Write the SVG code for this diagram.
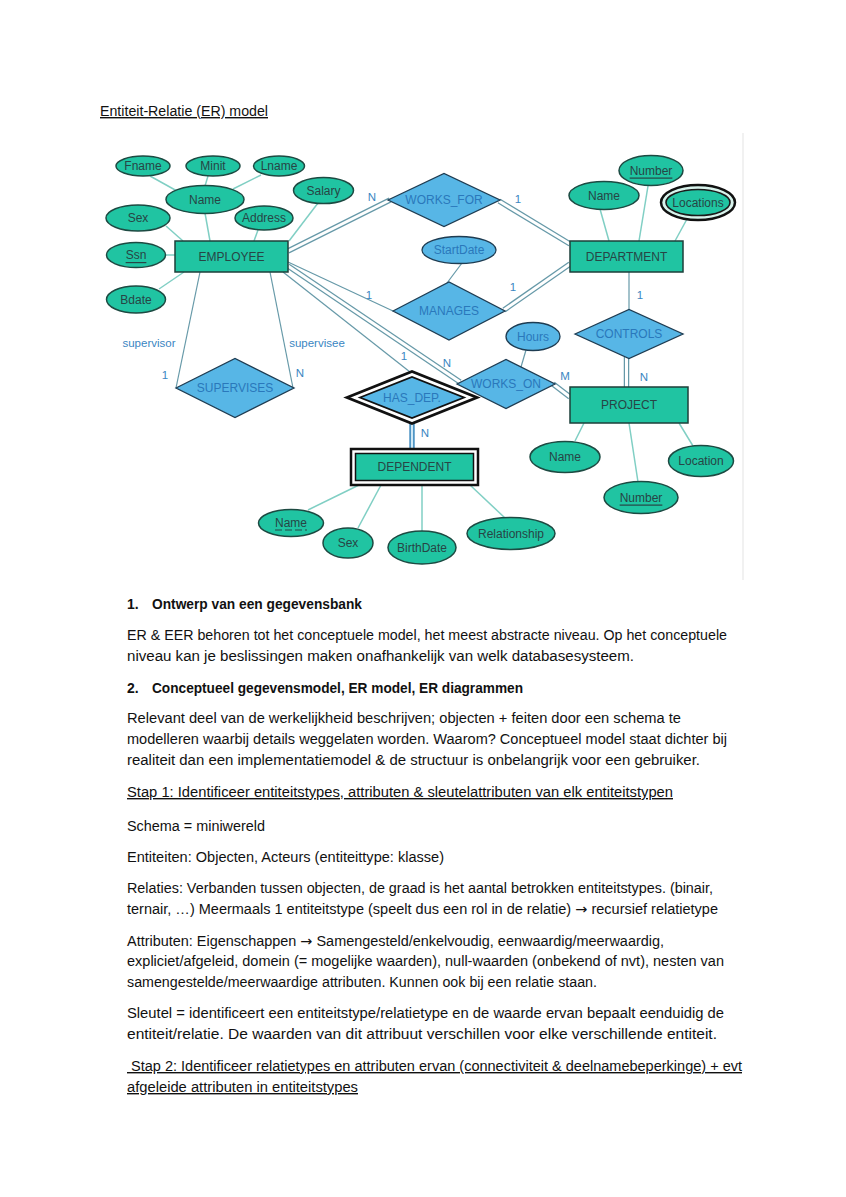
<svg xmlns="http://www.w3.org/2000/svg" width="846" height="1197" viewBox="0 0 846 1197">
<style>
.bg{fill:#ffffff}
.al{stroke:#80cfc4;stroke-width:1.5;fill:none}
.rl{stroke:#6699a8;stroke-width:1.2;fill:none}
.dl{stroke:#6699a8;stroke-width:5.5;fill:none}
.dli{stroke:#ffffff;stroke-width:3;fill:none}
.att{fill:#20c4a2;stroke:#1d4a42;stroke-width:1.5}
.ent{fill:#20c4a2;stroke:#1d3f3a;stroke-width:1.5}
.rel{fill:#57b6e6;stroke:#1e3c52;stroke-width:1.3}
.ratt{fill:#57b6e6;stroke:#1e3c52;stroke-width:1.3}
.t{font-family:"Liberation Sans",Arial,sans-serif;font-size:12px;fill:#274545;text-anchor:middle;dominant-baseline:central}
.rt{font-family:"Liberation Sans",Arial,sans-serif;font-size:12px;fill:#2a78bb;text-anchor:middle;dominant-baseline:central}
.lb{font-family:"Liberation Sans",Arial,sans-serif;font-size:11.5px;fill:#3a86c2;text-anchor:middle;dominant-baseline:central}
.u{text-decoration:underline}
.p{font-family:"Liberation Sans",Arial,sans-serif;font-size:14px;fill:#111}
.b{font-weight:bold}
.ar{font-family:"DejaVu Sans",sans-serif}
</style>
<rect class="bg" x="0" y="0" width="846" height="1197"/>
<line x1="743" y1="133" x2="743" y2="580" stroke="#ececec" stroke-width="1.5"/>
<text class="p u" x="100" y="116" textLength="168" lengthAdjust="spacingAndGlyphs">Entiteit-Relatie (ER) model</text>

<g id="connectors">
  <line class="al" x1="150" y1="176" x2="177" y2="191"/>
  <line class="al" x1="208" y1="176" x2="205" y2="186"/>
  <line class="al" x1="261" y1="175" x2="233" y2="189"/>
  <line class="al" x1="205" y1="213" x2="210" y2="241"/>
  <line class="al" x1="166" y1="226" x2="183" y2="241"/>
  <line class="al" x1="258" y1="230" x2="254" y2="241"/>
  <line class="al" x1="318" y1="203" x2="289" y2="241"/>
  <line class="al" x1="165" y1="255" x2="175" y2="255"/>
  <line class="al" x1="159" y1="289" x2="184" y2="272"/>
  <line class="al" x1="600" y1="209" x2="609" y2="241"/>
  <line class="al" x1="648" y1="186" x2="639" y2="241"/>
  <line class="al" x1="687" y1="219" x2="675" y2="241"/>
  <line class="rl" x1="462" y1="263" x2="447" y2="283"/>
  <line class="rl" x1="526" y1="350" x2="521" y2="367"/>
  <line class="al" x1="575" y1="441" x2="584" y2="423"/>
  <line class="al" x1="638" y1="482" x2="629" y2="423"/>
  <line class="al" x1="693" y1="446" x2="679" y2="423"/>
  <line class="al" x1="308" y1="510" x2="359" y2="485"/>
  <line class="al" x1="358" y1="528" x2="381" y2="485"/>
  <line class="al" x1="422" y1="531" x2="422" y2="485"/>
  <line class="al" x1="505" y1="518" x2="470" y2="485"/>

  <line class="rl" x1="288" y1="262" x2="393" y2="311"/>
  <line class="rl" x1="283" y1="272" x2="410" y2="372"/>
  <line class="rl" x1="200" y1="272" x2="176" y2="388"/>
  <line class="rl" x1="270" y1="272" x2="293" y2="388"/>
  <line class="rl" x1="629" y1="272" x2="629" y2="310"/>

  <line class="dl" x1="288" y1="251" x2="390" y2="200"/>
  <line class="dli" x1="288" y1="251" x2="390" y2="200"/>
  <line class="dl" x1="499" y1="201" x2="570" y2="244"/>
  <line class="dli" x1="499" y1="201" x2="570" y2="244"/>
  <line class="dl" x1="504" y1="310" x2="570" y2="264"/>
  <line class="dli" x1="504" y1="310" x2="570" y2="264"/>
  <line class="dl" x1="288" y1="266" x2="460" y2="382"/>
  <line class="dli" x1="288" y1="266" x2="460" y2="382"/>
  <line class="dl" x1="553" y1="384" x2="570" y2="397"/>
  <line class="dli" x1="553" y1="384" x2="570" y2="397"/>
  <line class="dl" x1="626.5" y1="357" x2="626.5" y2="387"/>
  <line class="dli" x1="626.5" y1="357" x2="626.5" y2="387"/>
  <line x1="412" y1="422" x2="412" y2="449" stroke="#4f95c4" stroke-width="5.5"/>
  <line x1="412" y1="422" x2="412" y2="449" stroke="#cfe8f5" stroke-width="2"/>

  <text class="lb" x="372" y="197">N</text>
  <text class="lb" x="518" y="199">1</text>
  <text class="lb" x="369" y="295">1</text>
  <text class="lb" x="513" y="287">1</text>
  <text class="lb" x="640" y="295">1</text>
  <text class="lb" x="644" y="377">N</text>
  <text class="lb" x="565" y="376">M</text>
  <text class="lb" x="447" y="363">N</text>
  <text class="lb" x="404" y="356">1</text>
  <text class="lb" x="425" y="433">N</text>
  <text class="lb" x="149" y="343">supervisor</text>
  <text class="lb" x="317" y="343">supervisee</text>
  <text class="lb" x="165" y="375">1</text>
  <text class="lb" x="300" y="373">N</text>
</g>

<g id="employee">
  <rect class="ent" x="175" y="241" width="113" height="31"/>
  <text class="t" x="231.5" y="256.5">EMPLOYEE</text>
</g>
<g id="emp-fname"><ellipse class="att" cx="143" cy="166" rx="27" ry="10"/><text class="t" x="143" y="166">Fname</text></g>
<g id="emp-minit"><ellipse class="att" cx="213" cy="166" rx="27" ry="10"/><text class="t" x="213" y="166">Minit</text></g>
<g id="emp-lname"><ellipse class="att" cx="279" cy="166" rx="25.5" ry="10"/><text class="t" x="279" y="166">Lname</text></g>
<g id="emp-name"><ellipse class="att" cx="205" cy="199.5" rx="39" ry="14"/><text class="t" x="205" y="199.5">Name</text></g>
<g id="emp-salary"><ellipse class="att" cx="323.5" cy="190.5" rx="30" ry="13"/><text class="t" x="323.5" y="190.5">Salary</text></g>
<g id="emp-sex"><ellipse class="att" cx="138" cy="218" rx="32" ry="13"/><text class="t" x="138" y="218">Sex</text></g>
<g id="emp-address"><ellipse class="att" cx="264" cy="218" rx="29" ry="12"/><text class="t" x="264" y="218">Address</text></g>
<g id="emp-ssn"><ellipse class="att" cx="136" cy="255" rx="29.5" ry="12.5"/><text class="t u" x="136" y="255">Ssn</text></g>
<g id="emp-bdate"><ellipse class="att" cx="136" cy="299.5" rx="29.5" ry="13.5"/><text class="t" x="136" y="299.5">Bdate</text></g>

<g id="works-for">
  <polygon class="rel" points="388,200 444,173.5 500,200 444,226.5"/>
  <text class="rt" x="444" y="200">WORKS_FOR</text>
</g>
<g id="department">
  <rect class="ent" x="570" y="241" width="113" height="31"/>
  <text class="t" x="626.5" y="256.5">DEPARTMENT</text>
</g>
<g id="dept-name"><ellipse class="att" cx="604" cy="195.5" rx="35" ry="14"/><text class="t" x="604" y="195.5">Name</text></g>
<g id="dept-number"><ellipse class="att" cx="651" cy="170.5" rx="32" ry="15"/><text class="t u" x="651" y="170.5">Number</text></g>
<g id="dept-locations">
  <ellipse cx="698" cy="202.5" rx="37" ry="17.5" fill="#d8f3ec" stroke="#111" stroke-width="2.5"/>
  <ellipse cx="698" cy="202.5" rx="32" ry="13" fill="#20c4a2" stroke="#1a1a1a" stroke-width="1.6"/>
  <text class="t" x="698" y="202.5">Locations</text>
</g>
<g id="startdate"><ellipse class="ratt" cx="459" cy="250" rx="37" ry="13.5"/><text class="rt" x="459" y="250">StartDate</text></g>
<g id="manages">
  <polygon class="rel" points="393,311 449,282 505,311 449,340"/>
  <text class="rt" x="449" y="311">MANAGES</text>
</g>
<g id="controls">
  <polygon class="rel" points="575,334 629,309.5 683,334 629,358.5"/>
  <text class="rt" x="629" y="334">CONTROLS</text>
</g>
<g id="hours"><ellipse class="ratt" cx="533" cy="336.5" rx="27" ry="14"/><text class="rt" x="533" y="336.5">Hours</text></g>
<g id="works-on">
  <polygon class="rel" points="457,384 506,359.5 555,384 506,408.5"/>
  <text class="rt" x="506" y="384">WORKS_ON</text>
</g>
<g id="project">
  <rect class="ent" x="570" y="387" width="118" height="36"/>
  <text class="t" x="629" y="405">PROJECT</text>
</g>
<g id="proj-name"><ellipse class="att" cx="565" cy="457" rx="35" ry="15.5"/><text class="t" x="565" y="457">Name</text></g>
<g id="proj-number"><ellipse class="att" cx="641" cy="497.5" rx="37" ry="16"/><text class="t u" x="641" y="497.5">Number</text></g>
<g id="proj-location"><ellipse class="att" cx="701" cy="461" rx="32.5" ry="15.5"/><text class="t" x="701" y="461">Location</text></g>
<g id="supervises">
  <polygon class="rel" points="176,388 235,358.5 294,388 235,417.5"/>
  <text class="rt" x="235" y="388">SUPERVISES</text>
</g>
<g id="has-dep">
  <polygon points="347,397.5 412,371.5 477,397.5 412,423.5" fill="#ffffff" stroke="#111" stroke-width="2.8"/>
  <polygon points="360,397.5 412,377 464,397.5 412,418" fill="#57b6e6" stroke="#111" stroke-width="1.8"/>
  <text class="rt" x="412" y="397.5">HAS_DEP.</text>
</g>
<g id="dependent">
  <rect x="351" y="449" width="127" height="36" fill="#ffffff" stroke="#111" stroke-width="2.5"/>
  <rect x="355.5" y="453.5" width="118" height="27" fill="#20c4a2" stroke="#111" stroke-width="1.5"/>
  <text class="t" x="414.5" y="467">DEPENDENT</text>
</g>
<g id="dep-name">
  <ellipse class="att" cx="291" cy="523" rx="32.5" ry="13.5"/>
  <text class="t" x="291" y="523">Name</text>
  <line x1="275" y1="530" x2="307" y2="530" stroke="#274545" stroke-width="1" stroke-dasharray="7,3"/>
</g>
<g id="dep-sex"><ellipse class="att" cx="348" cy="543" rx="25" ry="15"/><text class="t" x="348" y="543">Sex</text></g>
<g id="dep-birthdate"><ellipse class="att" cx="422" cy="547.5" rx="34" ry="16.5"/><text class="t" x="422" y="547.5">BirthDate</text></g>
<g id="dep-relationship"><ellipse class="att" cx="511" cy="533.5" rx="44" ry="16"/><text class="t" x="511" y="533.5">Relationship</text></g>

<g id="body-text">
  <text class="p b" x="127" y="609">1.</text>
  <text class="p b" x="152" y="609" textLength="210" lengthAdjust="spacingAndGlyphs">Ontwerp van een gegevensbank</text>
  <text class="p" x="127" y="640" textLength="600" lengthAdjust="spacingAndGlyphs">ER &amp; EER behoren tot het conceptuele model, het meest abstracte niveau. Op het conceptuele</text>
  <text class="p" x="127" y="661" textLength="507" lengthAdjust="spacingAndGlyphs">niveau kan je beslissingen maken onafhankelijk van welk databasesysteem.</text>
  <text class="p b" x="127" y="693">2.</text>
  <text class="p b" x="152" y="693" textLength="371" lengthAdjust="spacingAndGlyphs">Conceptueel gegevensmodel, ER model, ER diagrammen</text>
  <text class="p" x="127" y="723" textLength="554" lengthAdjust="spacingAndGlyphs">Relevant deel van de werkelijkheid beschrijven; objecten + feiten door een schema te</text>
  <text class="p" x="127" y="744" textLength="600" lengthAdjust="spacingAndGlyphs">modelleren waarbij details weggelaten worden. Waarom? Conceptueel model staat dichter bij</text>
  <text class="p" x="127" y="765" textLength="573" lengthAdjust="spacingAndGlyphs">realiteit dan een implementatiemodel &amp; de structuur is onbelangrijk voor een gebruiker.</text>
  <text class="p u" x="127" y="797" textLength="546" lengthAdjust="spacingAndGlyphs">Stap 1: Identificeer entiteitstypes, attributen &amp; sleutelattributen van elk entiteitstypen</text>
  <text class="p" x="127" y="831" textLength="138" lengthAdjust="spacingAndGlyphs">Schema = miniwereld</text>
  <text class="p" x="127" y="862" textLength="317" lengthAdjust="spacingAndGlyphs">Entiteiten: Objecten, Acteurs (entiteittype: klasse)</text>
  <text class="p" x="127" y="893" textLength="586" lengthAdjust="spacingAndGlyphs">Relaties: Verbanden tussen objecten, de graad is het aantal betrokken entiteitstypes. (binair,</text>
  <text class="p" x="127" y="914" textLength="591" lengthAdjust="spacingAndGlyphs">ternair, …) Meermaals 1 entiteitstype (speelt dus een rol in de relatie) <tspan class="ar">→</tspan> recursief relatietype</text>
  <text class="p" x="127" y="946" textLength="537" lengthAdjust="spacingAndGlyphs">Attributen: Eigenschappen <tspan class="ar">→</tspan> Samengesteld/enkelvoudig, eenwaardig/meerwaardig,</text>
  <text class="p" x="127" y="966" textLength="597" lengthAdjust="spacingAndGlyphs">expliciet/afgeleid, domein (= mogelijke waarden), null-waarden (onbekend of nvt), nesten van</text>
  <text class="p" x="127" y="987" textLength="470" lengthAdjust="spacingAndGlyphs">samengestelde/meerwaardige attributen. Kunnen ook bij een relatie staan.</text>
  <text class="p" x="127" y="1018" textLength="597" lengthAdjust="spacingAndGlyphs">Sleutel = identificeert een entiteitstype/relatietype en de waarde ervan bepaalt eenduidig de</text>
  <text class="p" x="127" y="1039" textLength="590" lengthAdjust="spacingAndGlyphs">entiteit/relatie. De waarden van dit attribuut verschillen voor elke verschillende entiteit.</text>
  <text class="p u" x="127" y="1071" textLength="615" lengthAdjust="spacingAndGlyphs" xml:space="preserve"> Stap 2: Identificeer relatietypes en attributen ervan (connectiviteit &amp; deelnamebeperkinge) + evt</text>
  <text class="p u" x="127" y="1092" textLength="231" lengthAdjust="spacingAndGlyphs">afgeleide attributen in entiteitstypes</text>
</g>
</svg>
